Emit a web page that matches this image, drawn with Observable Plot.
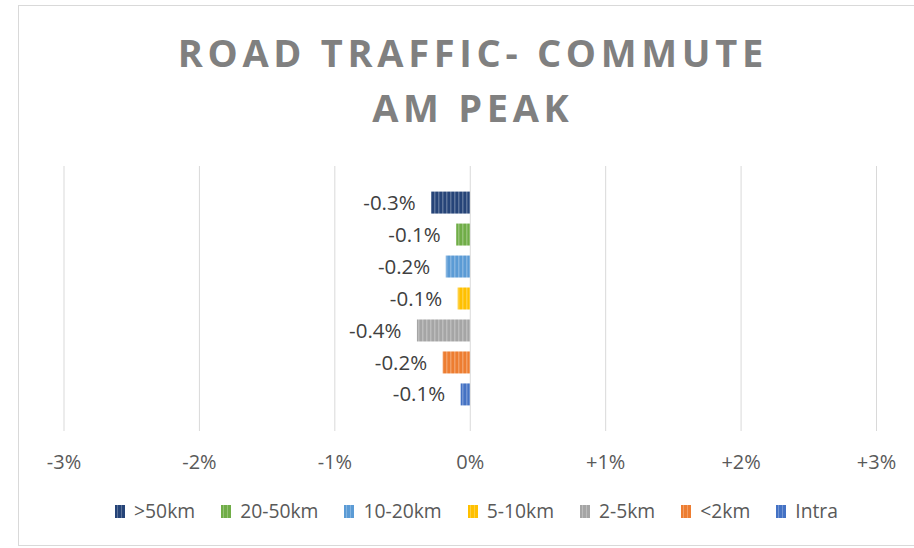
<!DOCTYPE html>
<html><head><meta charset="utf-8">
<script src="https://cdn.jsdelivr.net/npm/d3@7"></script>
<script src="https://cdn.jsdelivr.net/npm/@observablehq/plot@0.6"></script>
<style>
html,body{margin:0;padding:0;background:#fff;overflow:hidden;}
#wrap{position:relative;width:914px;height:548px;font-family:"Open Sans",sans-serif;overflow:hidden;}
#border{position:absolute;left:18px;top:5px;width:920px;height:541px;border:1px solid #d9d9d9;box-sizing:border-box;}
#title{position:absolute;left:18px;width:905px;top:25px;text-align:center;font-weight:700;font-size:38px;letter-spacing:4.7px;padding-left:4.7px;box-sizing:border-box;color:#808080;line-height:55px;}
#chart{position:absolute;left:0;top:0;}
#legend{position:absolute;left:24px;width:905px;top:499px;display:flex;justify-content:center;align-items:center;gap:26px;font-size:19.3px;line-height:24px;color:#595959;}
.item{display:flex;align-items:center;}
.sw{width:10px;height:13px;margin-right:9px;}
</style></head>
<body>
<div id="wrap">
  <div id="border"></div>
  <div id="title">ROAD TRAFFIC- COMMUTE<br>AM PEAK</div>
  <div id="chart"></div>
  <div id="legend"></div>
</div>
<script>
const categories = [">50km", "20-50km", "10-20km", "5-10km", "2-5km", "<2km", "Intra"];
const values = [-0.285, -0.10, -0.177, -0.089, -0.39, -0.20, -0.067];
const colors = ["#264478", "#70AD47", "#5B9BD5", "#FFC000", "#A5A5A5", "#ED7D31", "#4472C4"];
const xTicks = [-3, -2, -1, 0, 1, 2, 3];

const data = categories.map((c, i) => ({category: c, value: values[i]}));
const lighter = c => d3.interpolateRgb(c, "#ffffff")(0.25);
const patIds = categories.map((c, i) => `pat${i}`);
const fmtTick = d => (d > 0 ? "+" : "") + d + "%";

const plot = Plot.plot({
  width: 914,
  height: 480,
  marginLeft: 63.5,
  marginRight: 38,
  marginTop: 166,
  marginBottom: 49,
  style: {fontFamily: "Open Sans, sans-serif", background: "transparent"},
  x: {domain: [-3, 3], ticks: xTicks, tickFormat: fmtTick, label: null, grid: false},
  y: {domain: categories, paddingInner: 0.3125, paddingOuter: 0.8, round: false, axis: null},
  color: {type: "ordinal", domain: categories, range: patIds.map(id => `url(#${id})`)},
  marks: [
    Plot.ruleX(xTicks, {stroke: "#d9d9d9", strokeWidth: 1, strokeOpacity: 1}),
    Plot.barX(data, {x: "value", y: "category", fill: "category"}),
    Plot.text(data, {x: "value", y: "category", text: d => d.value.toFixed(1) + "%", textAnchor: "end", dx: -16, fontSize: 20.5, fill: "#404040"}),
    Plot.axisX({ticks: xTicks, tickFormat: fmtTick, tickSize: 0, tickPadding: 23, fontSize: 20, color: "#595959", label: null})
  ]
});

// stripe patterns
const svg = d3.select(plot);
const defs = svg.insert("defs", ":first-child");
categories.forEach((c, i) => {
  const p = defs.append("pattern").attr("id", patIds[i]).attr("patternUnits", "userSpaceOnUse").attr("width", 4).attr("height", 4);
  p.append("rect").attr("width", 4).attr("height", 4).attr("fill", colors[i]);
  p.append("rect").attr("x", 2).attr("width", 1.5).attr("height", 4).attr("fill", lighter(colors[i]));
});
document.getElementById("chart").appendChild(plot);

const legend = d3.select("#legend");
categories.forEach((c, i) => {
  const item = legend.append("div").attr("class", "item");
  item.append("div").attr("class", "sw")
    .style("background", `repeating-linear-gradient(90deg, ${colors[i]} 0px, ${colors[i]} 2px, ${lighter(colors[i])} 2px, ${lighter(colors[i])} 3.5px, ${colors[i]} 3.5px, ${colors[i]} 4px)`);
  item.append("span").text(c);
});
</script>
</body></html>
